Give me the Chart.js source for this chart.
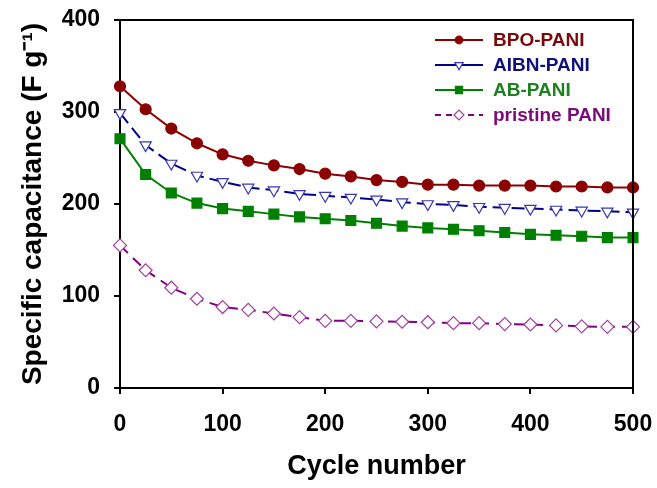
<!DOCTYPE html>
<html>
<head>
<meta charset="utf-8">
<script src="https://cdn.jsdelivr.net/npm/chart.js@4/dist/chart.umd.min.js"></script>
<style>
html,body{margin:0;padding:0;background:#fff;}
#wrap{width:657px;height:488px;position:relative;}
</style>
</head>
<body>
<div id="wrap"><canvas id="c"></canvas></div>
<script>
const cycles = [0,25,50,75,100,125,150,175,200,225,250,275,300,325,350,375,400,425,450,475,500];
const seriesNames = ['BPO-PANI','AIBN-PANI','AB-PANI','pristine PANI'];
const bpo = [328,303,282,266,254,247,242,238,233,230,226,224,221,221,220,220,220,219,219,218,218];
const aibn = [299,264,244,231,224,218,215,211,209,207,205,202,200,199,197,196,195,194,193,192,191];
const ab = [271,232,212,201,195,192,189,186,184,182,179,176,174,172.5,171,169,167,166,165,163.5,163.5];
const pristine = [155,128,109,97,88,85,81,77,73,73,72.5,72,71.5,70.5,70.5,69.5,69,68,67,66.5,66.5];
const xTicks = [0,100,200,300,400,500];
const yTicks = [0,100,200,300,400];
const xTitle = 'Cycle number';
const yTitle = 'Specific capacitance (F g\u207B\u00B9)';

const FONT = "'Liberation Sans', Arial, sans-serif";

function pts(vals){ return cycles.map((c,i)=>({x:c,y:vals[i]})); }

const styles = [
  {line:'#8B0000', text:'#7a0a0a', pointStyle:'circle', radius:5.5, bg:'#8B0000', bd:'#8B0000', dash:[], legendDash:[], rot:0, lr:3.8},
  {line:'#00008B', text:'#10107a', pointStyle:'triangle', radius:6.5, bg:'#ffffff', bd:'#3838b0', dash:[13,6], legendDash:[], rot:180, lr:4.8},
  {line:'#008000', text:'#1e801e', pointStyle:'rect', radius:7, bg:'#008000', bd:'#008000', dash:[], legendDash:[], rot:0, lr:5},
  {line:'#800080', text:'#7a0a7a', pointStyle:'rectRot', radius:6.5, bg:'#ffffff', bd:'#a040a0', dash:[11,7], legendDash:[6,5], rot:0, lr:5}
];
const allVals = [bpo, aibn, ab, pristine];

const datasets = allVals.map((v,i)=>({
  label: seriesNames[i],
  data: pts(v),
  borderColor: styles[i].line,
  borderWidth: 2,
  borderDash: styles[i].dash,
  pointStyle: styles[i].pointStyle,
  pointRadius: styles[i].radius,
  pointRotation: styles[i].rot,
  pointBackgroundColor: styles[i].bg,
  pointBorderColor: styles[i].bd,
  pointBorderWidth: 1.2,
  tension: 0,
  clip: false,
  order: 4 - i
}));

const boxPlugin = {
  id:'box',
  afterDatasetsDraw(chart){
    const {ctx, chartArea:a} = chart;
    ctx.save();
    ctx.strokeStyle = '#000';
    ctx.lineWidth = 2;
    ctx.beginPath();
    ctx.moveTo(a.left, a.top);
    ctx.lineTo(a.right, a.top);
    ctx.lineTo(a.right, a.bottom);
    ctx.stroke();
    ctx.restore();
  }
};

const legendPlugin = {
  id:'customLegend',
  afterDraw(chart){
    const {ctx, chartArea:a} = chart;
    const x0 = a.right - 198, x1 = a.right - 150, tx = a.right - 140;
    ctx.save();
    seriesNames.forEach((name,i)=>{
      const st = styles[i];
      const y = a.top + 20 + i*25;
      ctx.strokeStyle = st.line;
      ctx.lineWidth = 2;
      ctx.setLineDash(st.legendDash);
      ctx.beginPath();
      ctx.moveTo(x0, y); ctx.lineTo(x1, y); ctx.stroke();
      ctx.setLineDash([]);
      ctx.fillStyle = st.bg;
      ctx.strokeStyle = st.bd;
      ctx.lineWidth = 1.2;
      Chart.helpers.drawPoint(ctx, {pointStyle: st.pointStyle, radius: st.lr, rotation: st.rot, borderWidth:1.2}, (x0+x1)/2, y);
      ctx.fillStyle = st.text;
      ctx.font = "bold 19px " + FONT;
      ctx.textBaseline = 'middle';
      ctx.textAlign = 'left';
      ctx.fillText(name, tx, y + 1);
    });
    ctx.restore();
  }
};

function noPad(s){ s.paddingLeft = 0; s.paddingRight = 0; s.paddingTop = 0; s.paddingBottom = 0; }

new Chart(document.getElementById('c'), {
  type:'line',
  data:{datasets},
  options:{
    responsive:true,
    maintainAspectRatio:false,
    animation:false,
    layout:{padding:{left:0,right:24,top:20,bottom:0}},
    plugins:{legend:{display:false}, tooltip:{enabled:false}},
    scales:{
      x:{
        type:'linear', min:0, max:500,
        afterBuildTicks(s){ s.ticks = xTicks.map(v=>({value:v})); },
        afterFit(s){ s.height = 100; noPad(s); },
        grid:{display:true, drawOnChartArea:false, drawTicks:true, tickLength:6, color:'#000', lineWidth:2},
        border:{display:true, color:'#000', width:2},
        ticks:{color:'#000', font:{family:FONT, size:23, weight:'bold'}, padding:17, maxRotation:0},
        title:{display:true, text:xTitle, color:'#000', font:{family:FONT, size:27, weight:'bold'}, padding:{top:4,bottom:5}}
      },
      y:{
        type:'linear', min:0, max:400,
        afterBuildTicks(s){ s.ticks = yTicks.map(v=>({value:v})); },
        afterFit(s){ s.width = 120; noPad(s); },
        grid:{display:true, drawOnChartArea:false, drawTicks:true, tickLength:6, color:'#000', lineWidth:2},
        border:{display:true, color:'#000', width:2},
        ticks:{color:'#000', font:{family:FONT, size:23, weight:'bold'}, padding:14},
        title:{display:true, text:yTitle, color:'#000', font:{family:FONT, size:28, weight:'bold'}, padding:{top:16,bottom:0}}
      }
    }
  },
  plugins:[boxPlugin, legendPlugin]
});
</script>
</body>
</html>
